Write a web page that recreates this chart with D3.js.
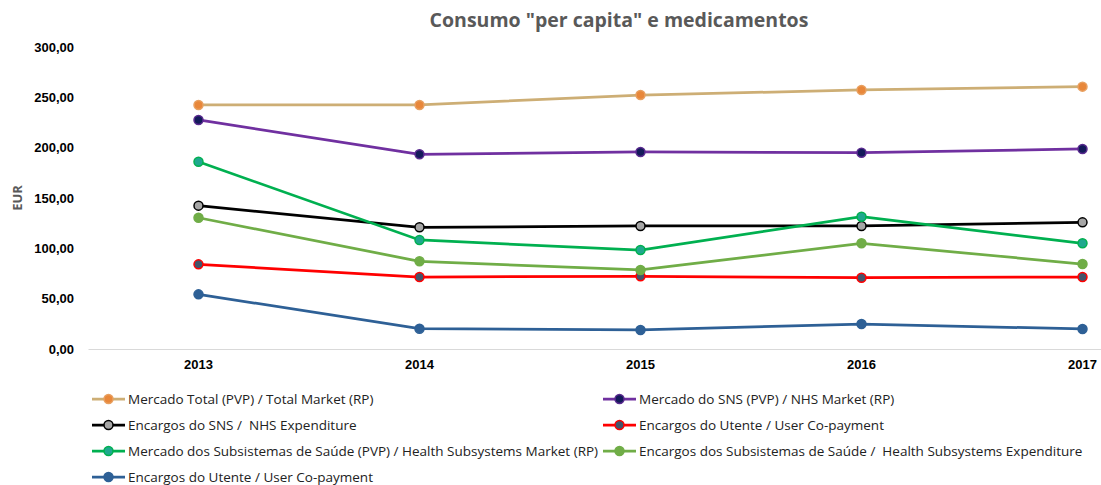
<!DOCTYPE html>
<meta charset="utf-8">
<title>Consumo per capita</title>
<style>
body { margin: 0; background: #fff; }
svg { font-family: "Open Sans", "DejaVu Sans", sans-serif; }
.tick text { font-weight: bold; fill: #000; }
.legend text { font-size: 13.5px; fill: #222; white-space: pre; }
</style>
<body>
<svg width="1101" height="485"></svg>
<script src="https://cdnjs.cloudflare.com/ajax/libs/d3/7.8.5/d3.min.js"></script>
<script>

// data
var years = ["2013", "2014", "2015", "2016", "2017"];
var yTicks = [0, 50, 100, 150, 200, 250, 300];

var totalMarket   = [242.4, 242.4, 252.3, 257.3, 260.6];
var snsMarket     = [227.5, 193.4, 195.7, 195.0, 198.7];
var nhsExpend     = [142.4, 120.9, 122.2, 122.2, 125.8];
var subsMarket    = [186.0, 108.3,  98.3, 131.4, 105.0];
var subsExpend    = [130.4,  87.1,  78.5, 105.0,  84.4];
var userCopayRed  = [ 84.1,  71.5,  72.2,  70.8,  71.5];
var userCopayBlue = [ 54.3,  20.2,  18.9,  24.8,  19.9];

var series = [
  {name: "Mercado Total (PVP) / Total Market (RP)", values: totalMarket, line: "#CDAE75", fill: "#E8873A", stroke: "#E8A060"},
  {name: "Mercado do SNS (PVP) / NHS Market (RP)", values: snsMarket, line: "#7030A0", fill: "#141A5A", stroke: "#5A2A90"},
  {name: "Encargos do SNS /  NHS Expenditure", values: nhsExpend, line: "#000000", fill: "#A6A6A6", stroke: "#000000"},
  {name: "Encargos do Utente / User Co-payment", values: userCopayRed, line: "#FF0000", fill: "#44546A", stroke: "#FF0000"},
  {name: "Mercado dos Subsistemas de Saúde (PVP) / Health Subsystems Market (RP)", values: subsMarket, line: "#00B050", fill: "#1FA88E", stroke: "#00B050"},
  {name: "Encargos dos Subsistemas de Saúde /  Health Subsystems Expenditure", values: subsExpend, line: "#70AD47", fill: "#70AD47", stroke: "#70AD47"},
  {name: "Encargos do Utente / User Co-payment", values: userCopayBlue, line: "#2E6096", fill: "#2E6096", stroke: "#2E6096"}
];

var svg = d3.select("svg");

var x = d3.scaleBand().domain(years).range([88, 1193]);
var y = d3.scaleLinear().domain([0, 300]).range([349, 47]);

// title
svg.append("text")
  .attr("x", 619).attr("y", 27)
  .attr("text-anchor", "middle")
  .style("font-size", "19.5px").style("font-weight", "bold")
  .style("fill", "#595959")
  .text("Consumo \"per capita\" e medicamentos");

// y axis (labels only)
var yAxis = svg.append("g")
  .attr("transform", "translate(78,0)")
  .call(d3.axisLeft(y).tickValues(yTicks).tickSize(0).tickPadding(4)
    .tickFormat(function(d) { return d3.format(".2f")(d).replace(".", ","); }));
yAxis.select(".domain").remove();
yAxis.selectAll("text").style("font-size", "13px");

svg.append("text")
  .attr("transform", "translate(22,198) rotate(-90)")
  .attr("text-anchor", "middle")
  .style("font-size", "13px").style("font-weight", "bold").style("fill", "#595959")
  .text("EUR");

// x axis
var xAxis = svg.append("g")
  .attr("transform", "translate(0," + y(0) + ")")
  .call(d3.axisBottom(x).tickSize(0).tickPadding(11));
xAxis.select(".domain").attr("stroke", "#d9d9d9").attr("stroke-width", 1);
xAxis.selectAll("text").style("font-size", "13px");

var line = d3.line()
  .x(function(d, i) { return x(years[i]) + x.bandwidth() / 2; })
  .y(function(d) { return y(d); });

series.forEach(function(s) {
  var g = svg.append("g");
  g.append("path")
    .datum(s.values)
    .attr("d", line)
    .attr("fill", "none")
    .attr("stroke", s.line)
    .attr("stroke-width", 2.75);
  g.selectAll("circle")
    .data(s.values)
    .enter().append("circle")
    .attr("cx", function(d, i) { return x(years[i]) + x.bandwidth() / 2; })
    .attr("cy", function(d) { return y(d); })
    .attr("r", 4.5)
    .attr("fill", s.fill)
    .attr("stroke", s.stroke)
    .attr("stroke-width", 1.5);
});

// legend: two columns, left column entries 0,2,4,6 ; right 1,3,5
var legend = svg.append("g").attr("class", "legend");
series.forEach(function(s, i) {
  var col = i % 2, row = Math.floor(i / 2);
  var lx = col === 0 ? 92 : 603;
  var ly = 399 + row * 26;
  var item = legend.append("g").attr("transform", "translate(" + lx + "," + ly + ")");
  item.append("line")
    .attr("x1", 0).attr("x2", 33).attr("y1", 0).attr("y2", 0)
    .attr("stroke", s.line).attr("stroke-width", 2.75);
  item.append("circle")
    .attr("cx", 16.5).attr("cy", 0).attr("r", 4.5)
    .attr("fill", s.fill).attr("stroke", s.stroke).attr("stroke-width", 1.5);
  item.append("text")
    .attr("x", 36).attr("y", 0).attr("dy", "0.35em")
    .text(s.name);
});

</script>
</body>
